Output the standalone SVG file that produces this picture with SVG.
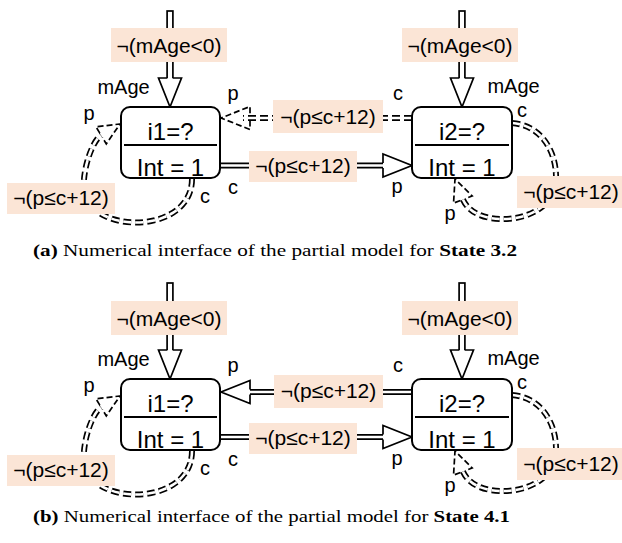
<svg xmlns="http://www.w3.org/2000/svg" xmlns:xlink="http://www.w3.org/1999/xlink" width="622" height="543" viewBox="0 0 622 543">
<style>
text{font-family:"Liberation Sans",Arial,sans-serif;fill:#000}
.t{font-size:21px;text-anchor:middle}
.s{font-size:20px;text-anchor:middle}
.n{font-size:24px;text-anchor:middle}
.box{fill:#fff;stroke:#000;stroke-width:2}
.div{stroke:#000;stroke-width:1.8}
.lbl{fill:#FBE5D6}
.o{fill:none;stroke:#000;stroke-width:6}
.i{fill:none;stroke:#fff;stroke-width:2.6}
.d{stroke-dasharray:8 4}
.ah{fill:#fff;stroke:#000;stroke-width:1.7;stroke-linejoin:miter}
.ahd{fill:none;stroke:#000;stroke-width:1.7;stroke-dasharray:6 3}
.stem{fill:#fff;stroke:#000;stroke-width:1.7}
.cap{font-family:"Liberation Serif","Times New Roman",serif;font-size:17px}
.b{font-weight:bold}
</style>
<defs>
<path id="ah" d="M-29,-2.6 L-29,-11.5 L0,0 L-29,11.5 L-29,2.6"/>
<path id="ahs" d="M-22,-2.6 L-22,-10 L0,0 L-22,10 L-22,2.6"/>
</defs>

<!-- ===== Panel (a) ===== -->
<g id="connectors-a">
  <rect class="stem" x="167.1" y="11" width="5.8" height="68"/>
  <use xlink:href="#ah" class="ah" transform="translate(170,107) rotate(90)"/>
  <rect class="lbl" x="111" y="28" width="116" height="34"/>
  <text class="t" x="169" y="53">¬(mAge&lt;0)</text>
  <text class="s" x="123.5" y="94">mAge</text>
  <rect class="stem" x="459.1" y="11" width="5.8" height="68"/>
  <use xlink:href="#ah" class="ah" transform="translate(462,107) rotate(90)"/>
  <rect class="lbl" x="402" y="28" width="116" height="34"/>
  <text class="t" x="460" y="53">¬(mAge&lt;0)</text>
  <text class="s" x="513.5" y="93">mAge</text>
  <path class="o d" d="M412,118 L243,118"/>
  <path class="i d" d="M412,118 L243,118"/>
  <use xlink:href="#ah" class="ahd" transform="translate(221,118) rotate(180)"/>
  <rect class="lbl" x="273" y="100" width="110" height="33"/>
  <text class="t" x="328" y="124">¬(p≤c+12)</text>
  <text class="s" x="233" y="100">p</text>
  <text class="s" x="398" y="100">c</text>
  <path class="o" d="M220,165.5 L384,165.5"/>
  <path class="i" d="M219,165.5 L384,165.5"/>
  <use xlink:href="#ah" class="ah" transform="translate(412,165.5)"/>
  <rect class="lbl" x="249" y="151" width="108" height="31"/>
  <text class="t" x="303" y="173">¬(p≤c+12)</text>
  <text class="s" x="233" y="194">c</text>
  <text class="s" x="397" y="193">p</text>
  <path class="o d" d="M192,179 C192,235 90,235 84,190 C82,170 92.5,140.5 101.1,135.3"/>
  <path class="i d" d="M192,179 C192,235 90,235 84,190 C82,170 92.5,140.5 101.1,135.3"/>
  <use xlink:href="#ahs" class="ahd" transform="translate(120,124) rotate(-31)"/>
  <rect class="lbl" x="7" y="183" width="108" height="31"/>
  <text class="t" x="61" y="205">¬(p≤c+12)</text>
  <text class="s" x="89" y="120">p</text>
  <text class="s" x="205" y="203">c</text>
  <path class="o d" d="M512,123 C540,125 557,150 556,180 C555,205 530,219 503,219 C488,219 470,215 462.9,199.5"/>
  <path class="i d" d="M512,123 C540,125 557,150 556,180 C555,205 530,219 503,219 C488,219 470,215 462.9,199.5"/>
  <use xlink:href="#ahs" class="ahd" transform="translate(455,179) rotate(-111)"/>
  <rect class="lbl" x="517" y="176" width="105" height="32"/>
  <text class="t" x="571" y="199">¬(p≤c+12)</text>
  <text class="s" x="522" y="117">c</text>
  <text class="s" x="450" y="220">p</text>
</g>
<g id="node-a-i1">
  <rect class="box" x="121" y="107" width="99" height="71" rx="9"/>
  <line class="div" x1="124" y1="145" x2="217" y2="145"/>
  <text class="n" x="170.5" y="140">i1=?</text>
  <text class="n" x="170.5" y="176">Int = 1</text>
</g>
<g id="node-a-i2">
  <rect class="box" x="412" y="107" width="100" height="71" rx="9"/>
  <line class="div" x1="415" y1="145" x2="509" y2="145"/>
  <text class="n" x="462" y="140">i2=?</text>
  <text class="n" x="462" y="176">Int = 1</text>
</g>
<text id="caption-a" class="cap" x="33" y="256" textLength="484" lengthAdjust="spacingAndGlyphs"><tspan class="b">(a)</tspan> Numerical interface of the partial model for <tspan class="b">State 3.2</tspan></text>

<!-- ===== Panel (b) ===== -->
<g id="connectors-b">
  <rect class="stem" x="167.1" y="283" width="5.8" height="68"/>
  <use xlink:href="#ah" class="ah" transform="translate(170,379) rotate(90)"/>
  <rect class="lbl" x="111" y="301" width="116" height="34"/>
  <text class="t" x="169" y="326">¬(mAge&lt;0)</text>
  <text class="s" x="123.5" y="366">mAge</text>
  <rect class="stem" x="459.1" y="283" width="5.8" height="68"/>
  <use xlink:href="#ah" class="ah" transform="translate(462,379) rotate(90)"/>
  <rect class="lbl" x="402" y="301" width="116" height="34"/>
  <text class="t" x="460" y="326">¬(mAge&lt;0)</text>
  <text class="s" x="513.5" y="365">mAge</text>
  <path class="o" d="M412,392 L242,392"/>
  <path class="i" d="M413,392 L242,392"/>
  <use xlink:href="#ah" class="ah" transform="translate(221,392) rotate(180)"/>
  <rect class="lbl" x="274" y="375" width="109" height="33"/>
  <text class="t" x="328.5" y="398">¬(p≤c+12)</text>
  <text class="s" x="233" y="372">p</text>
  <text class="s" x="398" y="372">c</text>
  <path class="o" d="M220,437 L384,437"/>
  <path class="i" d="M219,437 L384,437"/>
  <use xlink:href="#ah" class="ah" transform="translate(412,437)"/>
  <rect class="lbl" x="249" y="423" width="108" height="31"/>
  <text class="t" x="303" y="445">¬(p≤c+12)</text>
  <text class="s" x="233" y="466">c</text>
  <text class="s" x="397" y="465">p</text>
  <path class="o d" d="M192,451 C192,507 90,507 84,462 C82,442 92.5,412.5 101.1,407.3"/>
  <path class="i d" d="M192,451 C192,507 90,507 84,462 C82,442 92.5,412.5 101.1,407.3"/>
  <use xlink:href="#ahs" class="ahd" transform="translate(120,396) rotate(-31)"/>
  <rect class="lbl" x="7" y="455" width="108" height="31"/>
  <text class="t" x="61" y="477">¬(p≤c+12)</text>
  <text class="s" x="89" y="392">p</text>
  <text class="s" x="205" y="475">c</text>
  <path class="o d" d="M512,395 C540,397 557,422 556,452 C555,477 530,491 503,491 C488,491 470,487 462.9,471.5"/>
  <path class="i d" d="M512,395 C540,397 557,422 556,452 C555,477 530,491 503,491 C488,491 470,487 462.9,471.5"/>
  <use xlink:href="#ahs" class="ahd" transform="translate(455,451) rotate(-111)"/>
  <rect class="lbl" x="517" y="448" width="105" height="32"/>
  <text class="t" x="571" y="471">¬(p≤c+12)</text>
  <text class="s" x="522" y="389">c</text>
  <text class="s" x="450" y="492">p</text>
</g>
<g id="node-b-i1">
  <rect class="box" x="121" y="379" width="99" height="71" rx="9"/>
  <line class="div" x1="124" y1="417" x2="217" y2="417"/>
  <text class="n" x="170.5" y="412">i1=?</text>
  <text class="n" x="170.5" y="448">Int = 1</text>
</g>
<g id="node-b-i2">
  <rect class="box" x="412" y="379" width="100" height="71" rx="9"/>
  <line class="div" x1="415" y1="417" x2="509" y2="417"/>
  <text class="n" x="462" y="412">i2=?</text>
  <text class="n" x="462" y="448">Int = 1</text>
</g>
<text id="caption-b" class="cap" x="33" y="522" textLength="477" lengthAdjust="spacingAndGlyphs"><tspan class="b">(b)</tspan> Numerical interface of the partial model for <tspan class="b">State 4.1</tspan></text>
</svg>
